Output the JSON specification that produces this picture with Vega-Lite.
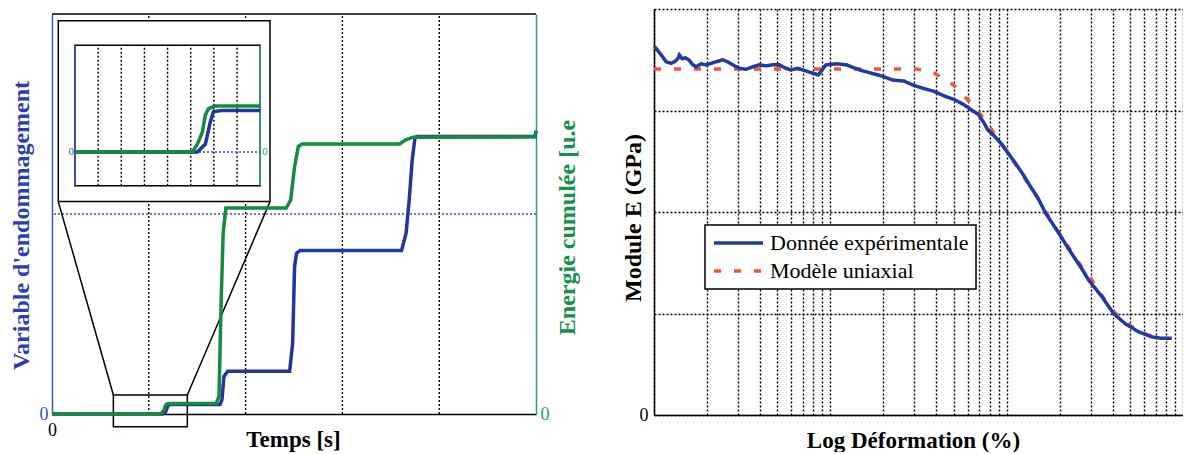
{
  "$schema": "https://vega.github.io/schema/vega-lite/v6.json",
  "padding": {"left": 9, "top": 9, "right": 0, "bottom": 0},
  "bounds": "flush",
  "spacing": 118,
  "config": {
    "view": {"stroke": null},
    "font": "Liberation Serif",
    "axis": {"labelFont": "Liberation Serif", "titleFont": "Liberation Serif", "labelFlush": false},
    "legend": {"strokeWidth": 1.5}
  },
  "datasets": {
    "damage": [
      {"t": 0, "d": 0}, {"t": 0.634, "d": 0}, {"t": 1.139, "d": 0}, {"t": 1.172, "d": 0.0045},
      {"t": 1.192, "d": 0.017}, {"t": 1.205, "d": 0.0228}, {"t": 1.237, "d": 0.0235}, {"t": 1.398, "d": 0.0235},
      {"t": 1.736, "d": 0.0235}, {"t": 1.756, "d": 0.036}, {"t": 1.776, "d": 0.094}, {"t": 1.815, "d": 0.107},
      {"t": 2.455, "d": 0.107}, {"t": 2.486, "d": 0.177}, {"t": 2.506, "d": 0.369}, {"t": 2.526, "d": 0.402},
      {"t": 2.565, "d": 0.409}, {"t": 3.611, "d": 0.409}, {"t": 3.658, "d": 0.452}, {"t": 3.69, "d": 0.535},
      {"t": 3.721, "d": 0.635}, {"t": 3.749, "d": 0.689}, {"t": 3.769, "d": 0.694}, {"t": 4.99, "d": 0.694},
      {"t": 5.0, "d": 0.708}
    ],
    "energy": [
      {"t": 0, "e": 0}, {"t": 0.634, "e": 0}, {"t": 1.119, "e": 0}, {"t": 1.139, "e": 0.0045},
      {"t": 1.159, "e": 0.011}, {"t": 1.172, "e": 0.021}, {"t": 1.185, "e": 0.0245}, {"t": 1.211, "e": 0.026},
      {"t": 1.398, "e": 0.026}, {"t": 1.697, "e": 0.027}, {"t": 1.725, "e": 0.044}, {"t": 1.748, "e": 0.286},
      {"t": 1.768, "e": 0.452}, {"t": 1.796, "e": 0.515}, {"t": 2.419, "e": 0.515}, {"t": 2.466, "e": 0.535},
      {"t": 2.506, "e": 0.619}, {"t": 2.545, "e": 0.669}, {"t": 2.585, "e": 0.675}, {"t": 3.591, "e": 0.675},
      {"t": 3.65, "e": 0.685}, {"t": 3.729, "e": 0.692}, {"t": 4.99, "e": 0.693}, {"t": 5.0, "e": 0.708}
    ],
    "modulus": [
      {"series": "Modèle uniaxial", "s": 1.0, "E": 3.41},
      {"series": "Modèle uniaxial", "s": 30.3, "E": 3.41},
      {"series": "Modèle uniaxial", "s": 35.0, "E": 3.395},
      {"series": "Modèle uniaxial", "s": 38.6, "E": 3.37},
      {"series": "Modèle uniaxial", "s": 42.5, "E": 3.33},
      {"series": "Modèle uniaxial", "s": 46.9, "E": 3.29},
      {"series": "Modèle uniaxial", "s": 51.6, "E": 3.23},
      {"series": "Modèle uniaxial", "s": 55.6, "E": 3.17},
      {"series": "Modèle uniaxial", "s": 59.7, "E": 3.11},
      {"series": "Modèle uniaxial", "s": 65.9, "E": 3.04},
      {"series": "Modèle uniaxial", "s": 72.6, "E": 2.94},
      {"series": "Modèle uniaxial", "s": 80.0, "E": 2.84},
      {"series": "Modèle uniaxial", "s": 90.3, "E": 2.71},
      {"series": "Modèle uniaxial", "s": 101.9, "E": 2.58},
      {"series": "Modèle uniaxial", "s": 115.1, "E": 2.44},
      {"series": "Modèle uniaxial", "s": 130.0, "E": 2.3},
      {"series": "Modèle uniaxial", "s": 146.9, "E": 2.16},
      {"series": "Modèle uniaxial", "s": 165.6, "E": 2.01},
      {"series": "Modèle uniaxial", "s": 187.1, "E": 1.86},
      {"series": "Modèle uniaxial", "s": 211.3, "E": 1.72},
      {"series": "Modèle uniaxial", "s": 238.8, "E": 1.58},
      {"series": "Modèle uniaxial", "s": 269.2, "E": 1.45},
      {"series": "Modèle uniaxial", "s": 304.1, "E": 1.33},
      {"series": "Modèle uniaxial", "s": 343.6, "E": 1.19},
      {"series": "Modèle uniaxial", "s": 388.2, "E": 1.05},
      {"series": "Modèle uniaxial", "s": 437.5, "E": 0.96},
      {"series": "Modèle uniaxial", "s": 494.3, "E": 0.89},
      {"series": "Modèle uniaxial", "s": 558.5, "E": 0.83},
      {"series": "Modèle uniaxial", "s": 631.0, "E": 0.79},
      {"series": "Modèle uniaxial", "s": 711.0, "E": 0.765},
      {"series": "Modèle uniaxial", "s": 824.0, "E": 0.75},
      {"series": "Donnée expérimentale", "s": 1.007, "E": 3.63},
      {"series": "Donnée expérimentale", "s": 1.096, "E": 3.55},
      {"series": "Donnée expérimentale", "s": 1.172, "E": 3.48},
      {"series": "Donnée expérimentale", "s": 1.25, "E": 3.465},
      {"series": "Donnée expérimentale", "s": 1.306, "E": 3.48},
      {"series": "Donnée expérimentale", "s": 1.365, "E": 3.51},
      {"series": "Donnée expérimentale", "s": 1.393, "E": 3.547},
      {"series": "Donnée expérimentale", "s": 1.445, "E": 3.51},
      {"series": "Donnée expérimentale", "s": 1.507, "E": 3.52},
      {"series": "Donnée expérimentale", "s": 1.574, "E": 3.5},
      {"series": "Donnée expérimentale", "s": 1.66, "E": 3.45},
      {"series": "Donnée expérimentale", "s": 1.734, "E": 3.43},
      {"series": "Donnée expérimentale", "s": 1.849, "E": 3.46},
      {"series": "Donnée expérimentale", "s": 1.972, "E": 3.45},
      {"series": "Donnée expérimentale", "s": 2.109, "E": 3.465},
      {"series": "Donnée expérimentale", "s": 2.249, "E": 3.48},
      {"series": "Donnée expérimentale", "s": 2.455, "E": 3.5},
      {"series": "Donnée expérimentale", "s": 2.618, "E": 3.48},
      {"series": "Donnée expérimentale", "s": 2.793, "E": 3.45},
      {"series": "Donnée expérimentale", "s": 3.048, "E": 3.416},
      {"series": "Donnée expérimentale", "s": 3.327, "E": 3.406},
      {"series": "Donnée expérimentale", "s": 3.622, "E": 3.43},
      {"series": "Donnée expérimentale", "s": 3.954, "E": 3.45},
      {"series": "Donnée expérimentale", "s": 4.315, "E": 3.44},
      {"series": "Donnée expérimentale", "s": 4.699, "E": 3.45},
      {"series": "Donnée expérimentale", "s": 5.129, "E": 3.45},
      {"series": "Donnée expérimentale", "s": 5.598, "E": 3.416},
      {"series": "Donnée expérimentale", "s": 5.97, "E": 3.4},
      {"series": "Donnée expérimentale", "s": 6.516, "E": 3.416},
      {"series": "Donnée expérimentale", "s": 7.4, "E": 3.385},
      {"series": "Donnée expérimentale", "s": 8.551, "E": 3.35},
      {"series": "Donnée expérimentale", "s": 9.441, "E": 3.45},
      {"series": "Donnée expérimentale", "s": 10.91, "E": 3.46},
      {"series": "Donnée expérimentale", "s": 12.33, "E": 3.45},
      {"series": "Donnée expérimentale", "s": 14.62, "E": 3.4},
      {"series": "Donnée expérimentale", "s": 16.9, "E": 3.37},
      {"series": "Donnée expérimentale", "s": 19.54, "E": 3.34},
      {"series": "Donnée expérimentale", "s": 22.59, "E": 3.3},
      {"series": "Donnée expérimentale", "s": 26.18, "E": 3.29},
      {"series": "Donnée expérimentale", "s": 29.51, "E": 3.25},
      {"series": "Donnée expérimentale", "s": 33.34, "E": 3.22},
      {"series": "Donnée expérimentale", "s": 38.55, "E": 3.19},
      {"series": "Donnée expérimentale", "s": 44.67, "E": 3.14},
      {"series": "Donnée expérimentale", "s": 50.12, "E": 3.11},
      {"series": "Donnée expérimentale", "s": 56.89, "E": 3.06},
      {"series": "Donnée expérimentale", "s": 62.66, "E": 3.01},
      {"series": "Donnée expérimentale", "s": 69.18, "E": 2.96},
      {"series": "Donnée expérimentale", "s": 74.3, "E": 2.88},
      {"series": "Donnée expérimentale", "s": 77.98, "E": 2.81},
      {"series": "Donnée expérimentale", "s": 83.95, "E": 2.76},
      {"series": "Donnée expérimentale", "s": 92.47, "E": 2.68},
      {"series": "Donnée expérimentale", "s": 101.9, "E": 2.58},
      {"series": "Donnée expérimentale", "s": 112.2, "E": 2.48},
      {"series": "Donnée expérimentale", "s": 123.9, "E": 2.37},
      {"series": "Donnée expérimentale", "s": 136.5, "E": 2.25},
      {"series": "Donnée expérimentale", "s": 150.3, "E": 2.14},
      {"series": "Donnée expérimentale", "s": 166.0, "E": 1.99},
      {"series": "Donnée expérimentale", "s": 182.8, "E": 1.88},
      {"series": "Donnée expérimentale", "s": 201.4, "E": 1.77},
      {"series": "Donnée expérimentale", "s": 221.8, "E": 1.65},
      {"series": "Donnée expérimentale", "s": 244.3, "E": 1.54},
      {"series": "Donnée expérimentale", "s": 269.2, "E": 1.43},
      {"series": "Donnée expérimentale", "s": 291.5, "E": 1.33},
      {"series": "Donnée expérimentale", "s": 346.7, "E": 1.166},
      {"series": "Donnée expérimentale", "s": 403.6, "E": 1.0},
      {"series": "Donnée expérimentale", "s": 470.0, "E": 0.9},
      {"series": "Donnée expérimentale", "s": 559.5, "E": 0.82},
      {"series": "Donnée expérimentale", "s": 665.0, "E": 0.77},
      {"series": "Donnée expérimentale", "s": 757.0, "E": 0.755},
      {"series": "Donnée expérimentale", "s": 863.0, "E": 0.755}
    ]
  },
  "hconcat": [
    {
      "width": 484,
      "height": 405,
      "layer": [
        {
          "layer": [
            {
              "data": {"values": [{"t": 1}, {"t": 2}, {"t": 3}, {"t": 4}]},
              "mark": {"type": "rule", "color": "black", "strokeWidth": 1.4, "strokeDash": [2, 2]},
              "encoding": {
                "x": {"field": "t", "type": "quantitative"},
                "y": {"datum": 0, "type": "quantitative"},
                "y2": {"datum": 1}
              }
            },
            {
              "data": {"values": [{}]},
              "mark": {"type": "rule", "color": "black", "strokeWidth": 1.5},
              "encoding": {"y": {"datum": 1, "type": "quantitative"}}
            },
            {
              "data": {"values": [{}]},
              "mark": {"type": "rule", "color": "#3450d0", "strokeWidth": 1.5, "strokeDash": [2, 2]},
              "encoding": {"y": {"datum": 0.5, "type": "quantitative"}}
            },
            {
              "data": {"name": "damage"},
              "mark": {"type": "line", "color": "#23359e", "strokeWidth": 3.5},
              "encoding": {
                "x": {
                  "field": "t", "type": "quantitative",
                  "scale": {"domain": [0, 5]},
                  "axis": {
                    "title": "Temps [s]", "values": [0], "format": "d", "grid": false, "ticks": false,
                    "labelFontSize": 18, "labelColor": "black", "labelPadding": 7,
                    "domainColor": "black", "domainWidth": 1.5,
                    "titleFontSize": 23, "titleFontWeight": "bold", "titleColor": "black",
                    "titleX": 241, "titleY": 14
                  }
                },
                "y": {
                  "field": "d", "type": "quantitative",
                  "scale": {"domain": [0, 1], "range": [405, 5]},
                  "axis": {
                    "title": "Variable d'endommagement", "values": [0], "format": "d", "grid": false, "ticks": false,
                    "labelFontSize": 18, "labelColor": "#3450d0", "labelPadding": 4,
                    "domainColor": "#3a55cc", "domainWidth": 1.5,
                    "titleFontSize": 24, "titleFontWeight": "bold", "titleColor": "#2b3db0",
                    "titleX": -19, "titleY": 216
                  }
                }
              }
            },
            {
              "data": {"values": [{"t": 0.065, "t2": 2.252, "d": 0.531, "d2": 0.983}]},
              "mark": {"type": "rect", "fill": "white", "stroke": "black", "strokeWidth": 1.5},
              "encoding": {
                "x": {"field": "t", "type": "quantitative"}, "x2": {"field": "t2"},
                "y": {"field": "d", "type": "quantitative"}, "y2": {"field": "d2"}
              }
            },
            {
              "data": {"values": [{"t": 0.634, "t2": 1.398, "d": -0.032, "d2": 0.0475}]},
              "mark": {"type": "rect", "fill": "white", "fillOpacity": 0, "stroke": "black", "strokeWidth": 1.5},
              "encoding": {
                "x": {"field": "t", "type": "quantitative"}, "x2": {"field": "t2"},
                "y": {"field": "d", "type": "quantitative"}, "y2": {"field": "d2"}
              }
            },
            {
              "data": {"values": [
                {"t": 0.065, "d": 0.531, "t2": 0.634, "d2": 0.0475},
                {"t": 2.252, "d": 0.531, "t2": 1.398, "d2": 0.0475}
              ]},
              "mark": {"type": "rule", "color": "black", "strokeWidth": 1.5},
              "encoding": {
                "x": {"field": "t", "type": "quantitative"}, "x2": {"field": "t2"},
                "y": {"field": "d", "type": "quantitative"}, "y2": {"field": "d2"}
              }
            }
          ]
        },
        {
          "data": {"name": "energy"},
          "mark": {"type": "line", "color": "#168a3e", "strokeWidth": 3.5},
          "encoding": {
            "x": {"field": "t", "type": "quantitative", "scale": {"domain": [0, 5]}, "axis": null},
            "y": {
              "field": "e", "type": "quantitative",
              "scale": {"domain": [0, 1], "range": [405, 5]},
              "axis": {
                "orient": "right", "title": "Energie cumulée [u.e", "values": [0], "format": "d", "grid": false, "ticks": false,
                "labelFontSize": 18, "labelColor": "#1f9d72", "labelPadding": 4,
                "domainColor": "#28a06c", "domainWidth": 1.5,
                "titleFontSize": 24, "titleFontWeight": "bold", "titleColor": "#149049",
                "titleAngle": 270, "titleBaseline": "bottom", "titleX": 43, "titleY": 218
              }
            }
          }
        },
        {
          "layer": [
            {
              "data": {"values": [{}]},
              "mark": {"type": "rect", "fill": "white", "stroke": "black", "strokeWidth": 1.5},
              "encoding": {
                "x": {"datum": 0.634, "type": "quantitative", "scale": {"domain": [0.634, 1.398], "range": [14.7, 208.7]}, "axis": null},
                "x2": {"datum": 1.398},
                "y": {"datum": -0.01915, "type": "quantitative", "scale": {"domain": [-0.01915, 0.0604], "range": [178.3, 19.3]}, "axis": null},
                "y2": {"datum": 0.0604}
              }
            },
            {
              "data": {"values": [{"t": 0.7295}, {"t": 0.825}, {"t": 0.9205}, {"t": 1.016}, {"t": 1.1115}, {"t": 1.207}, {"t": 1.3025}]},
              "mark": {"type": "rule", "color": "black", "strokeWidth": 1.4, "strokeDash": [2, 2]},
              "encoding": {
                "x": {"field": "t", "type": "quantitative"},
                "y": {"datum": -0.01915, "type": "quantitative"},
                "y2": {"datum": 0.0604}
              }
            },
            {
              "data": {"values": [{}]},
              "mark": {"type": "rule", "color": "#3a55cc", "strokeWidth": 1.5},
              "encoding": {
                "x": {"datum": 0.634, "type": "quantitative"},
                "y": {"datum": -0.01915, "type": "quantitative"},
                "y2": {"datum": 0.0604}
              }
            },
            {
              "data": {"values": [{}]},
              "mark": {"type": "rule", "color": "#28a06c", "strokeWidth": 1.5},
              "encoding": {
                "x": {"datum": 1.398, "type": "quantitative"},
                "y": {"datum": -0.01915, "type": "quantitative"},
                "y2": {"datum": 0.0604}
              }
            },
            {
              "data": {"values": [{}]},
              "mark": {"type": "rule", "color": "#3450d0", "strokeWidth": 1.5, "strokeDash": [2, 2]},
              "encoding": {
                "x": {"datum": 0.634, "type": "quantitative"}, "x2": {"datum": 1.398},
                "y": {"datum": 0, "type": "quantitative"}
              }
            },
            {
              "data": {"name": "damage"},
              "transform": [{"filter": "datum.t >= 0.634 && datum.t <= 1.398"}],
              "mark": {"type": "line", "color": "#23359e", "strokeWidth": 3.5},
              "encoding": {
                "x": {"field": "t", "type": "quantitative"},
                "y": {"field": "d", "type": "quantitative"}
              }
            },
            {
              "data": {"name": "energy"},
              "transform": [{"filter": "datum.t >= 0.634 && datum.t <= 1.398"}],
              "mark": {"type": "line", "color": "#168a3e", "strokeWidth": 3.5},
              "encoding": {
                "x": {"field": "t", "type": "quantitative"},
                "y": {"field": "e", "type": "quantitative"}
              }
            },
            {
              "data": {"values": [{}]},
              "mark": {"type": "text", "text": "0", "align": "right", "baseline": "middle", "dx": -1, "fontSize": 11, "font": "Liberation Serif", "color": "#3450d0"},
              "encoding": {"x": {"datum": 0.634, "type": "quantitative"}, "y": {"datum": 0, "type": "quantitative"}}
            },
            {
              "data": {"values": [{}]},
              "mark": {"type": "text", "text": "0", "align": "left", "baseline": "middle", "dx": 2, "fontSize": 11, "font": "Liberation Serif", "color": "#1f9d72"},
              "encoding": {"x": {"datum": 1.398, "type": "quantitative"}, "y": {"datum": 0, "type": "quantitative"}}
            }
          ]
        }
      ],
      "resolve": {"scale": {"x": "independent", "y": "independent"}}
    },
    {
      "width": 529,
      "height": 406,
      "data": {"name": "modulus"},
      "encoding": {
        "x": {
          "field": "s", "type": "quantitative",
          "scale": {"type": "log", "domain": [1, 1000]},
          "axis": {
            "title": "Log Déformation (%)",
            "values": [1, 2, 3, 4, 5, 6, 7, 8, 9, 10, 20, 30, 40, 50, 60, 70, 80, 90, 100, 200, 300, 400, 500, 600, 700, 800, 900, 1000],
            "grid": true, "gridColor": "black", "gridDash": [2, 2], "gridWidth": 1.4,
            "labels": false, "ticks": false, "domainColor": "black", "domainWidth": 1.5,
            "titleFontSize": 23, "titleFontWeight": "bold", "titleColor": "black",
            "titleX": 259, "titleY": 14
          }
        },
        "y": {
          "field": "E", "type": "quantitative",
          "scale": {"domain": [0, 4]},
          "axis": {
            "title": "Module E (GPa)", "values": [0, 1, 2, 3, 4],
            "labelExpr": "datum.value == 0 ? '0' : ''",
            "grid": true, "gridColor": "black", "gridDash": [2, 2], "gridWidth": 1.4,
            "ticks": false, "labelFontSize": 18, "labelColor": "black", "labelPadding": 6,
            "domainColor": "black", "domainWidth": 1.5,
            "titleFontSize": 24, "titleFontWeight": "bold", "titleColor": "black",
            "titleX": -9, "titleY": 208.5
          }
        },
        "color": {
          "field": "series", "type": "nominal",
          "scale": {"domain": ["Donnée expérimentale", "Modèle uniaxial"], "range": ["#22399e", "#f2563a"]},
          "legend": {
            "title": null, "orient": "none", "legendX": 653, "legendY": 216,
            "symbolType": "stroke", "symbolSize": 2400, "symbolStrokeWidth": 3.5,
            "labelFontSize": 22, "labelFont": "Liberation Serif", "labelColor": "black",
            "labelOffset": 5, "labelLimit": 400, "padding": 7, "rowPadding": 6, "clipHeight": 22,
            "strokeColor": "black", "fillColor": "white"
          }
        },
        "strokeDash": {
          "field": "series", "type": "nominal",
          "scale": {"domain": ["Donnée expérimentale", "Modèle uniaxial"], "range": [[1, 0], [7, 13]]},
          "legend": {
            "title": null, "orient": "none", "legendX": 653, "legendY": 216,
            "symbolType": "stroke", "symbolSize": 2400, "symbolStrokeWidth": 3.5,
            "labelFontSize": 22, "labelFont": "Liberation Serif", "labelColor": "black",
            "labelOffset": 5, "labelLimit": 400, "padding": 7, "rowPadding": 6, "clipHeight": 22,
            "strokeColor": "black", "fillColor": "white"
          }
        }
      },
      "layer": [
        {
          "transform": [{"filter": "datum.series == 'Modèle uniaxial'"}],
          "mark": {"type": "line", "strokeWidth": 3.5}
        },
        {
          "transform": [{"filter": "datum.series == 'Donnée expérimentale'"}],
          "mark": {"type": "line", "strokeWidth": 3.5}
        }
      ]
    }
  ]
}
